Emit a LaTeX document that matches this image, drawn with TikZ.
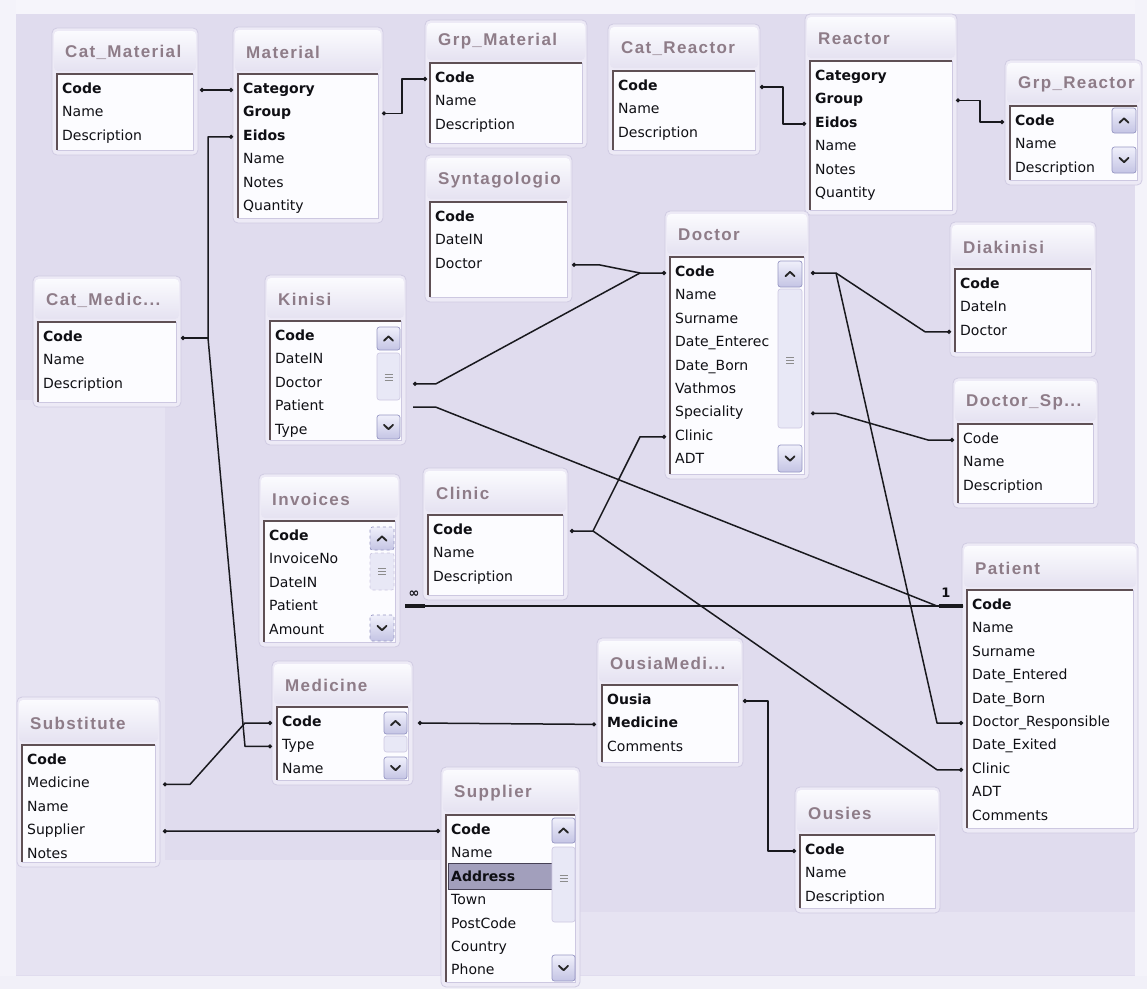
\documentclass[tikz,border=0pt]{standalone}
\usepackage{fontspec}
\setmainfont{DejaVu Sans}
\newfontfamily\titlefont[LetterSpace=8]{Liberation Sans}
\usetikzlibrary{arrows.meta}

\definecolor{bgc}{RGB}{224,220,238}
\definecolor{patchc}{RGB}{230,227,242}
\definecolor{bandc}{RGB}{246,245,251}
\definecolor{panelc}{RGB}{237,234,246}
\definecolor{paneledge}{RGB}{208,203,226}
\definecolor{titletop}{RGB}{251,251,254}
\definecolor{titlebot}{RGB}{229,226,241}
\definecolor{titletext}{RGB}{142,124,136}
\definecolor{listc}{RGB}{252,252,255}
\definecolor{listedge}{RGB}{205,200,225}
\definecolor{sunkc}{RGB}{95,80,85}
\definecolor{fieldc}{RGB}{15,15,20}
\definecolor{linec}{RGB}{25,25,30}
\definecolor{btntop}{RGB}{240,240,251}
\definecolor{btnbot}{RGB}{196,196,228}
\definecolor{btnedge}{RGB}{150,150,195}
\definecolor{trackc}{RGB}{232,232,246}
\definecolor{selc}{RGB}{162,159,188}
\definecolor{seledge}{RGB}{70,65,85}

\tikzset{
  panel/.style={fill=panelc, draw=paneledge, line width=0.8pt, rounded corners=5pt},
  titlefill/.style={top color=titletop, bottom color=titlebot, rounded corners=4pt},
  ttl/.style={font=\titlefont\bfseries\fontsize{17}{17}\selectfont, text=titletext, anchor=west, inner sep=0pt},
  listbox/.style={fill=listc, draw=listedge, line width=0.8pt},
  sunken/.style={draw=sunkc, line width=1.4pt},
  fld/.style={font=\fontsize{14}{14}\selectfont, text=fieldc, anchor=west, inner sep=0pt, text height=10pt, text depth=3pt},
  rel/.style={draw=linec, line width=1.5pt, line join=round},
  reldots/.style={{Circle[length=4pt]}-{Circle[length=4pt]}},
  startdot/.style={{Circle[length=4pt]}-},
  enddot/.style={-{Circle[length=4pt]}},
  btn/.style={top color=btntop, bottom color=btnbot, draw=btnedge, line width=0.7pt, rounded corners=2.5pt},
  chev/.style={draw=black!85, line width=1.8pt, line cap=round, line join=round},
  track/.style={fill=trackc, draw=listedge, line width=0.6pt, rounded corners=2.5pt},
  grip/.style={draw=black!45, line width=0.6pt},
  cardlabel/.style={font=\bfseries\fontsize{13}{13}\selectfont, inner sep=0pt, text=fieldc}
}

\def\rowgap{23.4}

% table: id, title, left, right, panel top, first row y, list bottom, rows
\newcommand\dbtable[8]{%
  \path[panel] (#3-5,#5) rectangle (#4+5,#7+5);
  \path[titlefill] (#3-3,#5+3) rectangle (#4+3,#6-19);
  \node[ttl] (#1-t) at (#3+8,#6-38) {#2};
  \path[listbox] (#3,#6-16) rectangle (#4,#7);
  \draw[sunken] (#3,#7) -- (#3,#6-16) -- (#4,#6-16);
  \coordinate (#1-w) at (#3,#6-16);
  \coordinate (#1-e) at (#4,#6-16);
  \foreach \f [count=\i] in {#8} {\node[fld] (#1-\i) at (#3+5,{#6+(\i-1)*\rowgap}) {\f};}
}

% scroll bar pieces: x1, x2, y1, y2
\newcommand\sbup[5][]{%
  \path[btn,#1] (#2,#4) rectangle (#3,#5);
  \draw[chev] ({(#2+#3)/2-4.5},{(#4+#5)/2+2.2}) -- ({(#2+#3)/2},{(#4+#5)/2-2.2}) -- ({(#2+#3)/2+4.5},{(#4+#5)/2+2.2});}
\newcommand\sbdown[5][]{%
  \path[btn,#1] (#2,#4) rectangle (#3,#5);
  \draw[chev] ({(#2+#3)/2-4.5},{(#4+#5)/2-2.2}) -- ({(#2+#3)/2},{(#4+#5)/2+2.2}) -- ({(#2+#3)/2+4.5},{(#4+#5)/2-2.2});}
\newcommand\sbtrack[5][]{\path[track,#1] (#2,#4) rectangle (#3,#5);}
\newcommand\sbgrip[3]{%
  \foreach \k in {-3,0,3} {\draw[grip] ({(#1+#2)/2-4},{#3+\k}) -- ({(#1+#2)/2+4},{#3+\k});}}

% selected row
\newcommand\selrow[1]{\makebox[0pt][l]{\hspace*{-3pt}\fcolorbox{seledge}{selc}{\rule[-5pt]{0pt}{20pt}\hspace*{97pt}}}#1}

\begin{document}
\begin{tikzpicture}[x=1pt,y=-1pt]
\useasboundingbox (0,0) rectangle (1147,989);

% canvas
\fill[bgc] (0,0) rectangle (1147,989);
\fill[patchc] (16,400) rectangle (165,975);
\fill[patchc] (165,860) rectangle (440,975);
\fill[patchc] (560,912) rectangle (1135,975);
\fill[bandc] (0,0) rectangle (1147,14);
\fill[bandc!90!bgc] (0,0) rectangle (16,989);
\fill[bandc!90!bgc] (1135,0) rectangle (1147,989);
\fill[bandc!80!bgc] (0,976) rectangle (1147,989);

% tables
\dbtable{cm}{Cat\_Material}{57}{193}{28}{90}{150}{\textbf{Code},Name,Description}
\dbtable{mat}{Material}{238}{378}{27}{90}{218}{\textbf{Category},\textbf{Group},\textbf{Eidos},Name,Notes,Quantity}
\dbtable{gm}{Grp\_Material}{430}{582}{20}{79}{143}{\textbf{Code},Name,Description}
\dbtable{cr}{Cat\_Reactor}{613}{755}{24}{87}{150}{\textbf{Code},Name,Description}
\dbtable{rea}{Reactor}{810}{952}{14}{77}{210}{\textbf{Category},\textbf{Group},\textbf{Eidos},Name,Notes,Quantity}
\dbtable{gr}{Grp\_Reactor}{1010}{1137}{60}{122}{180}{\textbf{Code},Name,Description}
\dbtable{syn}{Syntagologio}{430}{567}{155}{218}{297}{\textbf{Code},DateIN,Doctor}
\dbtable{doc}{Doctor}{670}{804}{211}{273}{474}{\textbf{Code},Name,Surname,Date\_Enterec,Date\_Born,Vathmos,Speciality,Clinic,ADT}
\dbtable{dia}{Diakinisi}{955}{1091}{222}{285}{352}{\textbf{Code},DateIn,Doctor}
\dbtable{dsp}{Doctor\_Sp...}{958}{1093}{378}{440}{503}{Code,Name,Description}
\dbtable{cmd}{Cat\_Medic...}{38}{176}{276}{338}{402}{\textbf{Code},Name,Description}
\dbtable{kin}{Kinisi}{270}{401}{275}{337}{440}{\textbf{Code},DateIN,Doctor,Patient,Type}
\dbtable{inv}{Invoices}{264}{395}{474}{537}{642}{\textbf{Code},InvoiceNo,DateIN,Patient,Amount}
\dbtable{cli}{Clinic}{428}{563}{468}{531}{595}{\textbf{Code},Name,Description}
\dbtable{pat}{Patient}{967}{1133}{543}{606}{828}{\textbf{Code},Name,Surname,Date\_Entered,Date\_Born,Doctor\_Responsible,Date\_Exited,Clinic,ADT,Comments}
\dbtable{om}{OusiaMedi...}{602}{738}{638}{701}{762}{\textbf{Ousia},\textbf{Medicine},Comments}
\dbtable{med}{Medicine}{277}{408}{661}{723}{780}{\textbf{Code},Type,Name}
\dbtable{sub}{Substitute}{22}{155}{697}{761}{862}{\textbf{Code},Medicine,Name,Supplier,Notes}
\dbtable{sup}{Supplier}{446}{575}{767}{831}{982}{\textbf{Code},Name,\selrow{\textbf{Address}},Town,PostCode,Country,Phone}
\dbtable{ous}{Ousies}{800}{935}{787}{851}{908}{\textbf{Code},Name,Description}

% scroll bars
\sbup{1112}{1136}{108}{133}
\sbdown{1112}{1136}{147}{173}

\sbup{778}{802}{261}{287}
\sbtrack{778}{802}{289}{428}
\sbgrip{778}{802}{360}
\sbdown{778}{802}{445}{472}

\sbup{377}{400}{327}{350}
\sbtrack{377}{400}{353}{400}
\sbgrip{377}{400}{377}
\sbdown{377}{400}{415}{439}

\sbup[dashed]{370}{394}{527}{550}
\sbtrack[dashed]{370}{394}{553}{590}
\sbgrip{370}{394}{571}
\sbdown[dashed]{370}{394}{615}{641}

\sbup{384}{407}{712}{734}
\sbtrack{384}{407}{736}{752}
\sbdown{384}{407}{757}{779}

\sbup{552}{575}{818}{843}
\sbtrack{552}{575}{847}{922}
\sbgrip{552}{575}{878}
\sbdown{552}{575}{955}{981}

% relationships
\draw[rel,reldots,line width=2.4pt] ([xshift=7pt]cm-e |- cm-1) -- ([xshift=-5pt]mat-w |- mat-1);
\draw[rel,reldots] ([xshift=-5pt]mat-w |- mat-3) -- ++(-25,0) -- ++(0,201)
  -- ([xshift=-32pt]med-w |- med-2) -- ([xshift=-5pt]med-w |- med-2);
\draw[rel,startdot] ([xshift=5pt]cmd-e |- cmd-1) -- ++(27,0);
\draw[rel,reldots] ([xshift=8pt]sub-e |- sub-2) -- ++(27,0)
  -- ([xshift=-32pt]med-w |- med-1) -- ([xshift=-5pt]med-w |- med-1);
\draw[rel,reldots] ([xshift=4pt]mat-e |- mat-2) -- ++(20,0) |- ([xshift=-3pt]gm-w |- gm-1);
\draw[rel,reldots] ([xshift=5pt]cr-e |- cr-1) -- ++(23,0) |- ([xshift=-4pt]rea-w |- rea-3);
\draw[rel,reldots] ([xshift=4pt]rea-e |- rea-2) -- ++(24,0) |- ([xshift=-6pt]gr-w |- gr-1);
\draw[rel,reldots] ([xshift=5pt]syn-e |- syn-3) -- ++(27,0)
  -- ([xshift=-30pt]doc-w |- doc-1) -- ([xshift=-4pt]doc-w |- doc-1);
\draw[rel,startdot] ([xshift=12pt]kin-e |- kin-3) -- ++(23,0) -- ([xshift=-30pt]doc-w |- doc-1);
\draw[rel] ([xshift=12pt]kin-e |- kin-4) -- ++(23,0)
  -- ([xshift=-30pt]pat-w |- pat-1) -- ([xshift=-4pt]pat-w |- pat-1);
\draw[rel] ([xshift=10pt]inv-e |- pat-1) -- ([xshift=-4pt]pat-w |- pat-1);
\draw[linec,line width=3.5pt] ([xshift=10pt]inv-e |- pat-1) -- ++(20,0);
\draw[linec,line width=3.5pt] ([xshift=-4pt]pat-w |- pat-1) -- ++(-24,0);
\node[cardlabel] (many) at (414,594) {∞};
\node[cardlabel] (one) at (946,593) {1};
\draw[rel,reldots] ([xshift=-4pt]doc-w |- doc-8) -- ++(-26,0)
  -- ([xshift=30pt]cli-e |- cli-1) -- ([xshift=7pt]cli-e |- cli-1);
\draw[rel,enddot] ([xshift=30pt]cli-e |- cli-1)
  -- ([xshift=-30pt]pat-w |- pat-8) -- ([xshift=-4pt]pat-w |- pat-8);
\draw[rel,reldots] ([xshift=7pt]doc-e |- doc-1) -- ++(25,0)
  -- ([xshift=-30pt]dia-w |- dia-3) -- ([xshift=-4pt]dia-w |- dia-3);
\draw[rel,enddot] ([xshift=32pt]doc-e |- doc-1)
  -- ([xshift=-30pt]pat-w |- pat-6) -- ([xshift=-4pt]pat-w |- pat-6);
\draw[rel,reldots] ([xshift=7pt]doc-e |- doc-7) -- ++(25,0)
  -- ([xshift=-30pt]dsp-w |- dsp-1) -- ([xshift=-4pt]dsp-w |- dsp-1);
\draw[rel,reldots] ([xshift=10pt]med-e |- med-1) -- ([xshift=-6pt]om-w |- om-2);
\draw[rel,reldots] ([xshift=5pt]om-e |- om-1) -- ++(25,0) |- ([xshift=-4pt]ous-w |- ous-1);
\draw[rel,reldots] ([xshift=8pt]sub-e |- sub-4) -- ([xshift=-6pt]sup-w |- sup-1);
\end{tikzpicture}
\end{document}
